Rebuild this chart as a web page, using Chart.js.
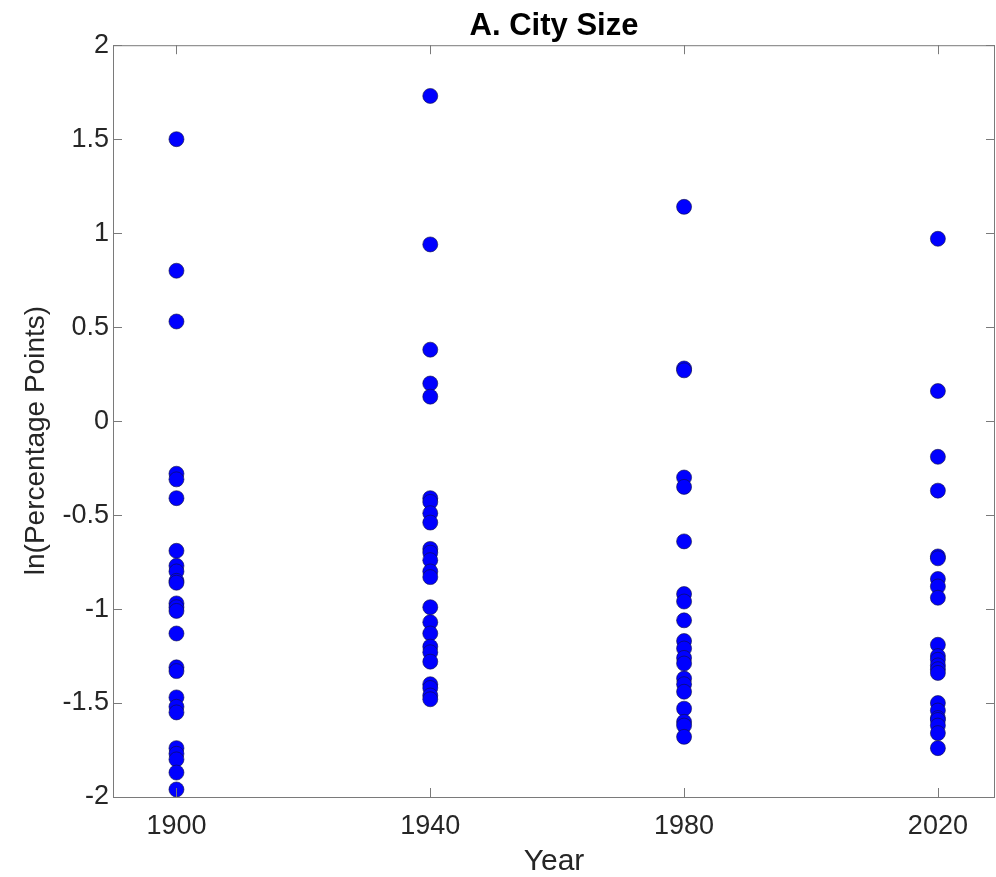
<!DOCTYPE html>
<html>
<head>
<meta charset="utf-8">
<script src="https://cdn.jsdelivr.net/npm/chart.js@4"></script>
<style>
  body { margin: 0; background: #fff; }
  #c { display: block; }
</style>
</head>
<body>
<canvas id="c" width="996" height="877"></canvas>
<script>
const years = [1900, 1940, 1980, 2020];
const yTicks = [-2, -1.5, -1, -0.5, 0, 0.5, 1, 1.5, 2];

// ln(percentage points)
const y1900 = [1.50, 0.80, 0.53, -0.28, -0.31, -0.41, -0.69, -0.77, -0.80, -0.85, -0.86,
  -0.97, -0.99, -1.01, -1.13, -1.31, -1.33, -1.47, -1.52, -1.55, -1.74, -1.77, -1.80,
  -1.87, -1.96];
const y1940 = [1.73, 0.94, 0.38, 0.20, 0.13, -0.41, -0.43, -0.49, -0.54, -0.68, -0.70,
  -0.74, -0.80, -0.83, -0.99, -1.07, -1.13, -1.20, -1.23, -1.28, -1.40, -1.42, -1.46,
  -1.48];
const y1980 = [1.14, 0.28, 0.27, -0.30, -0.35, -0.64, -0.92, -0.96, -1.06, -1.17,
  -1.21, -1.26, -1.29, -1.37, -1.40, -1.44, -1.53, -1.60, -1.62, -1.68];
const y2020 = [0.97, 0.16, -0.19, -0.37, -0.72, -0.73, -0.84, -0.88, -0.94, -1.19,
  -1.25, -1.27, -1.30, -1.32, -1.34, -1.50, -1.54, -1.58, -1.59, -1.62, -1.66, -1.74];

const series = [y1900, y1940, y1980, y2020];
const points = [];
series.forEach((vals, i) => {
  vals.forEach(v => points.push({ x: years[i], y: v }));
});

const axisColor = "#262626";
const boxColor = "#7a7a7a";
const font = "Liberation Sans";

// MATLAB style box with inward ticks on all four sides
const boxTicks = {
  id: "boxTicks",
  afterDraw(chart) {
    const { ctx, chartArea: a, scales } = chart;
    ctx.save();
    ctx.strokeStyle = boxColor;
    ctx.lineWidth = 1;
    ctx.strokeRect(a.left + 0.5, a.top + 0.5, a.right - a.left - 1, a.bottom - a.top);
    const len = 9;
    ctx.beginPath();
    years.forEach(v => {
      const x = Math.round(scales.x.getPixelForValue(v)) + 0.5;
      ctx.moveTo(x, a.bottom); ctx.lineTo(x, a.bottom - len);
      ctx.moveTo(x, a.top); ctx.lineTo(x, a.top + len);
    });
    yTicks.forEach(v => {
      const y = Math.round(scales.y.getPixelForValue(v)) + 0.5;
      ctx.moveTo(a.left, y); ctx.lineTo(a.left + len, y);
      ctx.moveTo(a.right, y); ctx.lineTo(a.right - len, y);
    });
    ctx.stroke();
    ctx.restore();
  },
};

new Chart(document.getElementById("c"), {
  type: "scatter",
  data: {
    datasets: [
      {
        data: points,
        backgroundColor: "#0000ff",
        borderColor: "#101040",
        borderWidth: 0.6,
        pointRadius: 7.5,
      },
    ],
  },
  options: {
    responsive: false,
    animation: false,
    layout: { autoPadding: false, padding: { left: 0, right: 1, top: 0, bottom: 0 } },
    plugins: {
      legend: { display: false },
      tooltip: { enabled: false },
      title: {
        display: true,
        fullSize: false,
        text: "A. City Size",
        color: "#000",
        font: { family: font, size: 31, weight: "bold" },
        padding: { top: 8, bottom: 0 },
      },
    },
    scales: {
      x: {
        type: "linear",
        min: 1890,
        max: 2029,
        afterBuildTicks: s => { s.ticks = years.map(v => ({ value: v })); },
        afterFit: s => {
          s.height = 80;
          s.paddingLeft = 0;
          s.paddingRight = 0;
        },
        grid: { display: false, drawTicks: false },
        border: { display: false },
        ticks: {
          color: axisColor,
          padding: 13,
          font: { family: font, size: 27 },
          callback: v => String(v),
          maxRotation: 0,
        },
        title: {
          display: true,
          text: "Year",
          color: axisColor,
          font: { family: font, size: 30 },
          padding: { top: 0, bottom: -3 },
        },
      },
      y: {
        min: -2,
        max: 2,
        afterBuildTicks: s => { s.ticks = yTicks.map(v => ({ value: v })); },
        afterFit: s => {
          s.width = 113;
          s.paddingTop = 0;
          s.paddingBottom = 0;
        },
        grid: { display: false, drawTicks: false },
        border: { display: false },
        ticks: {
          color: axisColor,
          padding: 4,
          font: { family: font, size: 27 },
          callback: v => String(v),
        },
        title: {
          display: true,
          text: "ln(Percentage Points)     ",
          color: axisColor,
          font: { family: font, size: 28 },
          padding: { top: 19, bottom: 0 },
        },
      },
    },
  },
  plugins: [boxTicks],
});
</script>
</body>
</html>
